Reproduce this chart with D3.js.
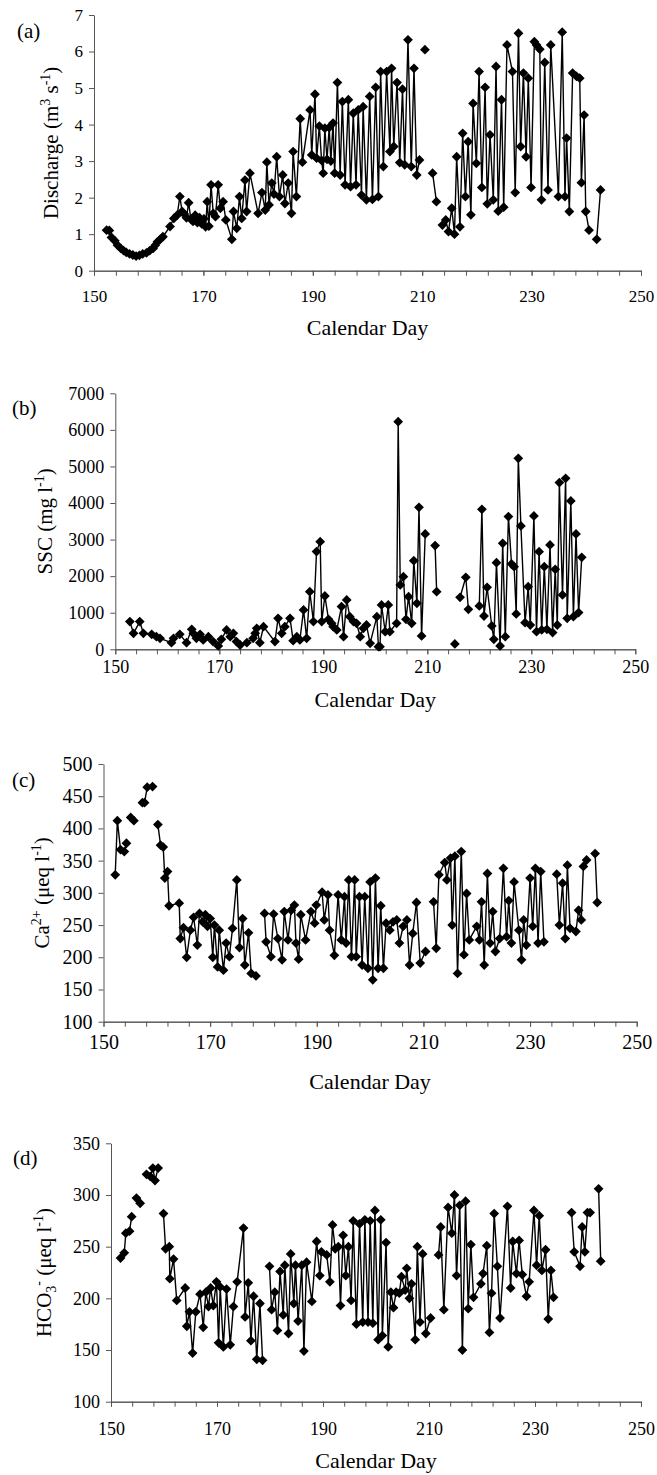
<!DOCTYPE html>
<html>
<head>
<meta charset="utf-8">
<script src="https://cdn.jsdelivr.net/npm/d3@7"></script>
<style>
body{margin:0;background:#fff}
svg text{font-family:"Liberation Serif","Times New Roman",serif;fill:#000}
</style>
</head>
<body>
<div id="chart"></div>
<script>
// calendar day / value pairs, null = break in the line
const dischargeDays=[152.3,152.8,153.2,153.8,154.3,154.9,155.4,155.9,156.5,157.1,157.7,158.3,158.9,159.6,160.2,160.8,161.2,161.6,162.1,162.6,
163.9,164.6,165.2,165.7,166.1,166.5,166.9,167.3,167.7,168.1,168.5,168.9,169.3,169.7,170.1,170.4,170.7,171.0,171.4,171.8,172.2,172.7,173.1,173.6,174.1,
175.2,175.5,176.1,176.6,177.0,177.6,177.9,178.5,180.0,180.7,181.3,181.6,182.0,182.5,182.9,183.4,183.9,184.5,184.9,185.5,186.1,186.4,187.0,187.7,188.1,
189.5,189.8,190.4,190.7,191.2,191.6,191.9,192.2,192.6,193.0,193.3,193.7,194.0,194.5,195.0,195.4,195.9,196.5,196.9,197.4,197.9,198.3,198.9,199.2,199.8,
200.4,200.9,201.5,202.0,202.4,202.9,203.5,204.1,204.4,204.8,205.4,205.9,206.4,206.8,207.4,208.0,208.5,209.0,209.5,null,210.5,null,211.9,212.6,null,
213.7,214.3,214.8,215.4,215.9,216.3,216.9,217.4,217.9,218.4,218.9,219.3,219.9,220.4,220.9,221.5,221.9,222.4,223.0,223.5,223.9,224.5,224.9,225.5,
226.5,227.0,227.6,228.0,228.5,229.0,229.4,229.9,230.5,230.9,231.5,231.8,232.4,233.0,233.5,234.9,235.6,236.1,236.4,236.9,237.5,238.2,238.8,239.1,
239.6,239.9,240.5,null,241.9,242.6];
const dischargeValues=[1.11,1.10,0.91,0.82,0.70,0.61,0.55,0.50,0.46,0.43,0.40,0.42,0.46,0.49,0.55,0.61,0.70,0.79,0.86,0.93,
1.21,1.43,1.52,2.03,1.62,1.55,1.45,1.86,1.42,1.35,1.52,1.32,1.45,1.28,1.42,1.20,1.89,1.22,2.35,1.57,1.48,2.35,1.71,1.89,1.39,
0.86,1.62,1.16,2.03,1.43,2.48,1.62,2.67,1.57,2.14,1.66,2.97,1.80,2.40,2.10,3.12,2.03,2.62,1.84,2.40,1.57,3.26,2.03,4.16,2.97,
4.40,3.17,4.83,3.08,3.96,3.02,2.67,3.90,3.05,3.92,3.00,4.04,2.67,5.15,2.62,4.63,2.35,4.68,2.30,4.31,2.35,4.40,2.07,4.49,1.94,
4.77,1.95,5.02,2.03,5.45,2.85,5.45,3.26,5.54,3.40,5.15,2.96,4.97,2.90,6.32,2.85,5.54,2.62,3.03,null,6.05,null,2.67,1.89,null,
1.25,1.39,1.07,1.71,1.00,3.12,1.20,3.76,2.03,3.53,1.53,4.58,2.94,5.45,2.28,5.02,1.83,3.72,1.94,5.59,1.63,4.68,1.74,6.18,
5.45,2.14,6.50,3.40,5.41,3.12,5.27,2.28,6.27,6.18,6.06,1.94,5.70,2.21,6.18,2.03,6.53,2.03,3.63,1.62,5.41,5.32,5.27,2.41,
4.26,1.62,1.11,null,0.86,2.21];

const sscDays=[152.8,153.5,154.7,155.4,157.0,157.9,158.6,160.8,161.2,162.4,163.7,164.7,165.0,165.6,166.3,166.9,167.9,168.8,169.8,170.4,
171.4,172.1,172.7,173.3,174.0,175.3,176.5,176.9,177.2,177.8,178.5,180.7,181.3,182.0,182.6,183.6,184.2,184.9,185.5,186.2,186.8,187.4,188.1,
188.7,189.4,189.7,190.3,191.0,191.6,191.9,192.6,193.5,193.9,194.5,195.1,195.8,196.4,197.1,197.7,198.3,199.0,200.3,200.6,200.9,201.2,201.9,
202.5,202.8,204.1,204.4,204.8,205.4,205.9,206.4,207.0,207.4,208.0,208.4,208.9,209.6,null,211.5,211.8,null,215.3,null,216.3,217.4,217.9,null,
220.0,220.5,220.9,221.5,222.4,222.8,223.3,224.0,224.5,225.0,225.6,226.2,226.7,227.1,227.5,228.0,228.8,229.4,229.8,230.5,231.0,231.5,232.0,
232.5,233.0,233.6,234.1,234.6,235.0,235.4,236.0,236.6,236.9,237.6,238.1,238.6,239.1,239.7];
const sscValues=[757,437,757,437,410,346,300,182,300,410,180,547,437,300,410,255,346,210,91,273,
529,346,437,210,118,182,300,437,574,182,620,210,848,437,620,848,237,346,255,1076,300,1577,757,
2671,2944,757,1458,820,711,620,529,1167,346,1349,893,757,711,346,574,665,164,893,73,73,1212,483,
1212,483,711,6225,1759,1987,820,1440,711,2424,1258,3883,365,3154,null,2835,1577,null,146,null,1422,1969,1094,null,
1185,3828,911,1695,638,273,2370,91,2899,346,3628,2333,2260,966,5223,3373,729,1713,665,3646,483,2670,529,
2260,547,2853,456,2188,665,4558,1486,4676,848,4056,893,3154,1003,2516];

const caDays=[152.2,152.6,153.2,153.9,154.3,null,155.1,155.7,null,157.3,157.7,158.2,159.2,null,160.2,160.7,161.2,161.5,162.0,162.3,
164.2,164.4,165.0,165.6,166.3,166.9,167.6,168.0,168.6,169.1,169.5,170.0,170.5,170.8,171.4,171.7,172.5,173.0,173.6,174.2,175.0,175.5,
176.1,176.5,177.2,177.7,178.6,null,180.2,180.5,181.4,181.9,182.7,183.5,183.9,184.6,185.2,185.8,186.1,186.6,187.0,187.9,188.9,189.6,
189.9,191.0,191.4,192.1,192.4,193.3,194.0,194.6,195.2,195.5,196.0,196.5,197.1,197.4,198.0,198.5,199.0,199.6,200.0,200.5,201.0,201.5,
202.0,202.5,203.0,203.7,204.3,205.0,205.5,206.2,206.9,207.4,208.0,208.7,209.4,210.4,null,211.9,212.4,212.9,214.0,214.4,215.1,215.4,
215.9,216.4,217.1,217.6,218.1,218.6,220.0,220.5,220.9,221.4,222.0,222.5,223.0,223.5,224.3,225.0,225.6,226.0,226.5,227.0,227.9,228.4,
228.8,229.3,230.0,230.5,231.0,231.5,232.0,232.6,null,235.0,235.5,236.1,236.6,237.0,237.5,238.6,239.1,239.6,240.0,240.6,null,242.2,242.6];
const caValues=[328,412,367,364,377,null,417,412,null,440,440,464,465,null,406,374,371,323,333,280,
284,229,246,200,242,262,219,268,255,266,248,260,200,250,185,242,180,222,201,245,320,215,
260,188,238,175,171,null,268,224,201,267,229,196,271,227,273,281,222,197,266,227,271,253,
281,301,258,297,242,203,297,227,294,222,320,201,320,201,294,188,294,183,317,165,323,183,
280,183,253,242,255,258,222,248,258,188,237,285,191,209,null,286,214,328,347,320,354,250,
357,175,364,204,299,227,248,227,286,188,330,222,271,209,229,338,232,288,222,317,242,196,
258,219,323,248,338,222,333,224,null,329,250,315,229,343,245,240,273,258,341,351,null,361,285];

const hco3Days=[151.8,152.5,152.8,153.5,153.9,null,154.8,155.5,null,156.7,157.4,157.9,158.3,158.9,null,159.9,160.3,161.0,161.1,161.8,
162.4,164.0,164.3,164.8,165.4,166.0,166.8,167.4,167.9,168.4,168.8,169.3,169.9,170.3,170.6,171.2,171.8,172.5,173.1,173.8,175.0,175.3,
175.9,176.4,176.9,177.5,178.1,178.6,null,179.9,180.3,180.9,181.4,181.9,182.5,182.8,183.5,183.9,184.5,184.8,185.3,186.0,186.4,186.9,
187.9,188.8,189.4,189.7,190.7,191.3,191.8,192.3,192.9,193.3,193.8,194.3,194.8,195.3,195.7,196.3,196.9,197.5,197.9,198.5,198.9,199.4,
199.8,200.4,200.9,201.2,201.9,202.3,202.8,203.3,203.8,204.4,204.8,205.5,205.8,206.3,206.7,207.4,207.8,208.3,208.8,209.4,210.3,null,
211.8,212.2,212.8,213.6,214.3,214.8,215.2,215.8,216.3,216.9,217.4,217.9,218.4,219.8,220.2,220.9,221.4,221.8,222.3,222.9,223.4,224.8,
225.4,225.8,226.5,227.0,227.6,228.4,228.9,229.8,230.3,230.8,231.3,232.0,232.5,233.0,233.5,null,236.9,237.4,238.5,238.9,239.4,239.9,
240.4,null,242.0,242.4];
const hco3Values=[239,244,263,265,279,null,297,292,null,320,318,326,314,326,null,282,248,250,219,238,
198,210,173,187,147,187,204,172,206,192,210,193,216,157,211,153,209,155,192,216,268,182,
215,159,202,141,195,140,null,231,189,206,169,226,184,232,166,243,195,232,178,232,149,235,
197,255,222,245,242,216,271,248,250,193,261,222,250,198,275,175,272,177,276,177,275,176,
285,160,276,164,254,153,206,191,206,205,221,208,229,200,214,160,250,177,243,166,181,null,
242,269,189,288,263,300,222,290,150,294,190,252,201,214,224,251,167,205,282,231,181,289,
210,255,224,256,223,202,216,285,232,280,227,247,180,227,201,null,283,245,231,269,245,283,
283,null,306,236];

const xTicks=[150,170,190,210,230,250];
const dischargeTicks=[0,1,2,3,4,5,6,7];
const sscTicks=[0,1000,2000,3000,4000,5000,6000,7000];
const caTicks=[100,150,200,250,300,350,400,450,500];
const hco3Ticks=[100,150,200,250,300,350];

const W=657,H=1475;

const panels=[
  {tag:"(a)",days:dischargeDays,values:dischargeValues,yTicks:dischargeTicks,
   title:[["Discharge (m",""],["3","sup"],[" s",""],["-1","sup"],[")",""]],
   left:94,right:641,top:15,bottom:270.7,tickFont:17,titleX:51,tagX:17,tagY:38,xLabelDy:31,xTitleDy:64},
  {tag:"(b)",days:sscDays,values:sscValues,yTicks:sscTicks,
   title:[["SSC (mg l",""],["-1","sup"],[")",""]],
   left:115.3,right:635.3,top:393.3,bottom:649.3,tickFont:18,titleX:45,tagX:12,tagY:415,xLabelDy:24,xTitleDy:58},
  {tag:"(c)",days:caDays,values:caValues,yTicks:caTicks,
   title:[["Ca",""],["2+","sup"],[" (\u03bceq l",""],["-1","sup"],[")",""]],
   left:103.5,right:636.7,top:764,bottom:1021.7,tickFont:20,titleX:42,tagX:12,tagY:787,xLabelDy:27,xTitleDy:67},
  {tag:"(d)",days:hco3Days,values:hco3Values,yTicks:hco3Ticks,
   title:[["HCO",""],["3","sub"],["-","sup"],[" (\u03bceq l",""],["-1","sup"],[")",""]],
   left:111,right:641,top:1143.3,bottom:1401.7,tickFont:18,titleX:44,tagX:13,tagY:1165,xLabelDy:33,xTitleDy:66}
];

const svg=d3.select("#chart").append("svg").attr("width",W).attr("height",H);

panels.forEach(p=>{
  const x=d3.scaleLinear().domain([150,250]).range([p.left,p.right]);
  const y=d3.scaleLinear().domain(d3.extent(p.yTicks)).range([p.bottom,p.top]);
  const g=svg.append("g");

  const minor=g.append("g").attr("transform",`translate(0,${p.bottom})`)
    .call(d3.axisBottom(x).tickValues(d3.range(150,251,4)).tickSize(5).tickSizeOuter(0).tickFormat(""));
  const xAxis=g.append("g").attr("transform",`translate(0,${p.bottom})`)
    .call(d3.axisBottom(x).tickValues(xTicks).tickSize(5).tickSizeOuter(0).tickFormat(d=>d));
  const yAxis=g.append("g").attr("transform",`translate(${p.left},0)`)
    .call(d3.axisLeft(y).tickValues(p.yTicks).tickSize(5).tickSizeOuter(0).tickPadding(6).tickFormat(d=>d));

  [minor,xAxis,yAxis].forEach(a=>{
    a.attr("font-family",null).attr("font-size",null);
    a.select(".domain").attr("stroke","#555");
    a.selectAll(".tick line").attr("stroke","#555");
    a.selectAll(".tick text").attr("font-size",p.tickFont).attr("fill","#000");
  });
  xAxis.selectAll(".tick text").attr("dy",null).attr("y",p.xLabelDy);

  const idx=d3.range(p.days.length);
  const line=d3.line()
    .defined(i=>p.values[i]!==null)
    .x(i=>x(p.days[i]))
    .y(i=>y(p.values[i]));
  g.append("path").attr("d",line(idx))
    .attr("fill","none").attr("stroke","#000").attr("stroke-width",1.4);

  const diamond=d3.symbol(d3.symbolSquare,48)();
  g.selectAll(".pt").data(idx.filter(i=>p.values[i]!==null)).join("path")
    .attr("class","pt")
    .attr("transform",i=>`translate(${x(p.days[i])},${y(p.values[i])}) rotate(45)`)
    .attr("d",diamond).attr("fill","#000");

  // y title with super/subscripts
  const t=g.append("text")
    .attr("transform",`translate(${p.titleX},${(p.top+p.bottom)/2}) rotate(-90)`)
    .attr("text-anchor","middle").attr("y",7).attr("font-size",21);
  let shift=0;
  p.title.forEach(([s,mode])=>{
    const target=mode==="sup"?-8:mode==="sub"?5:0;
    t.append("tspan").attr("dy",target-shift).attr("font-size",mode?14:21).text(s);
    shift=target;
  });

  g.append("text").attr("x",p.tagX).attr("y",p.tagY).attr("font-size",21).text(p.tag);
  g.append("text").attr("x",(p.left+p.right)/2).attr("y",p.bottom+p.xTitleDy)
    .attr("text-anchor","middle").attr("font-size",22).text("Calendar Day");
});
</script>
</body>
</html>
